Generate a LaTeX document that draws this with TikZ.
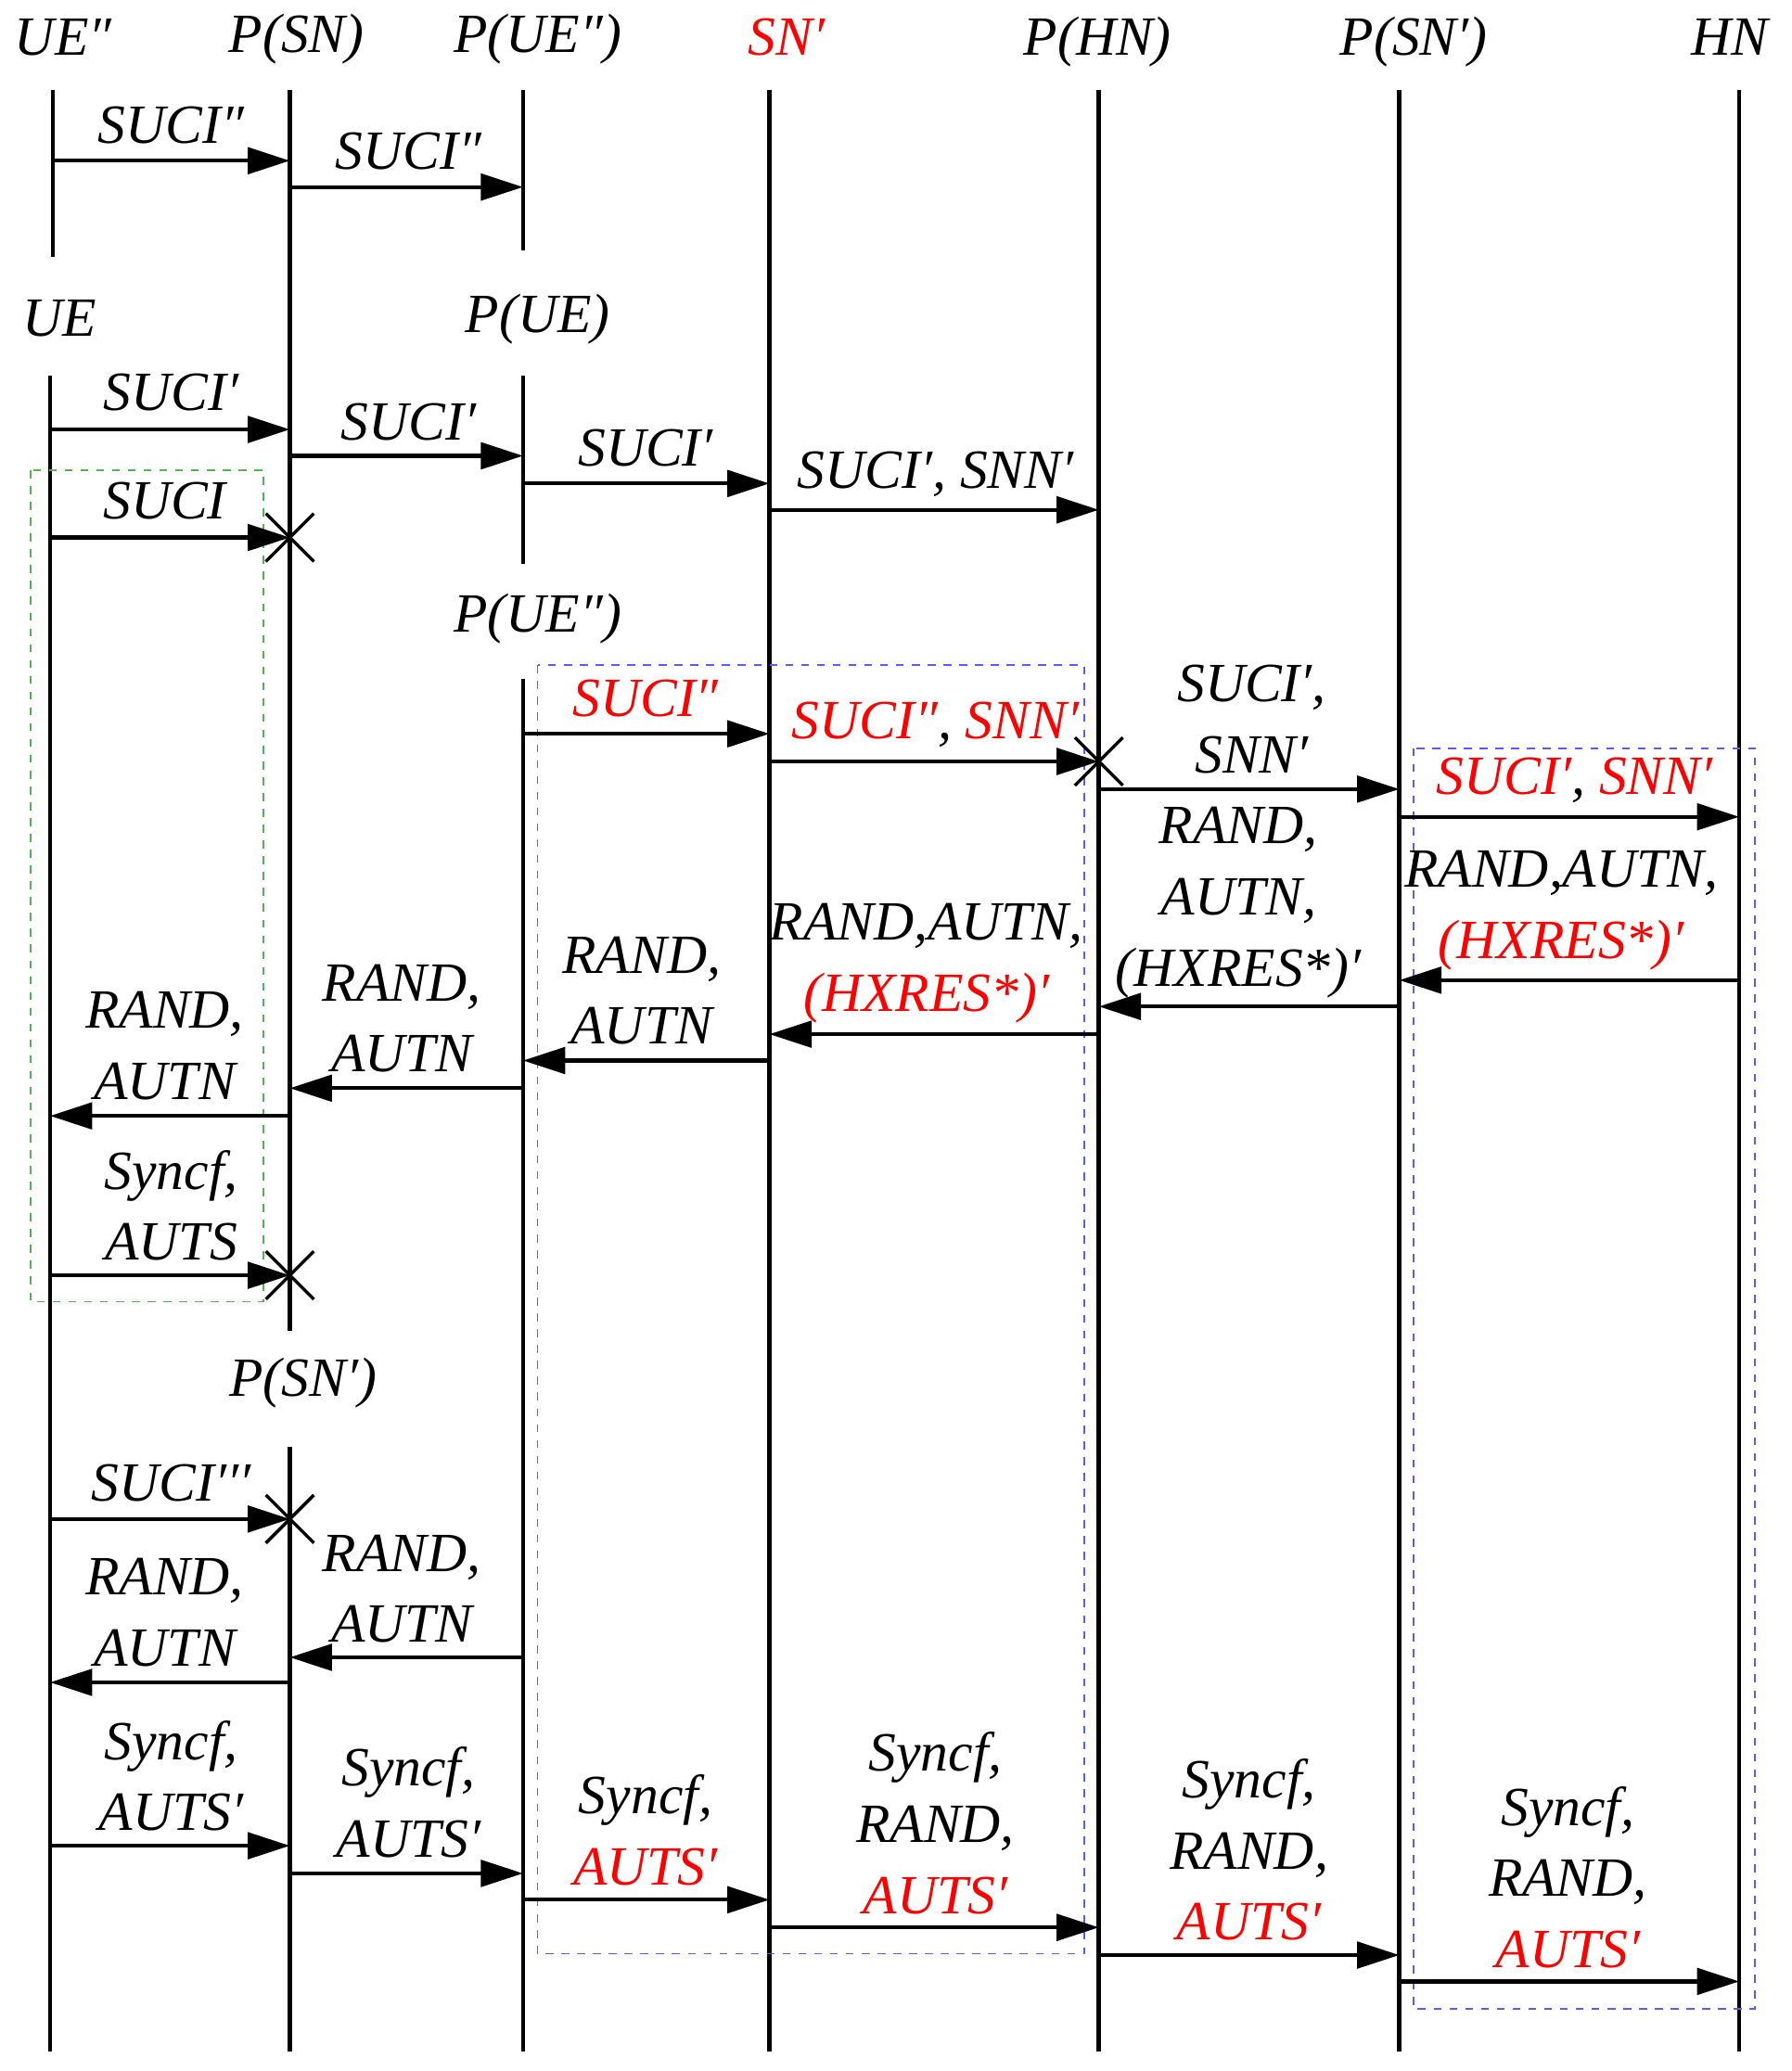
\documentclass[tikz,border=0pt]{standalone}
\usepackage{fontspec}
\setmainfont{Liberation Serif}
\usetikzlibrary{arrows.meta,shapes.misc}
\newcommand\msgarrow[4]{\coordinate (#4a) at (#2,#1); \coordinate (#4b) at (#3,#1); \draw[msg] (#4a) -- (#4b);}
\begin{document}
\begin{tikzpicture}[x=0.5pt,y=-0.5pt,
  life/.style={line width=1.6pt},
  msg/.style={line width=1.5pt,-{Triangle[length=16pt,width=10pt]}},
  lbl/.style={font=\fontsize{21}{25}\selectfont\itshape,align=center,inner sep=0pt},
  xm/.style={cross out,draw,line width=1.2pt,minimum size=17pt,inner sep=0pt},
  gbox/.style={draw={rgb,255:red,80;green,180;blue,80},dashed,line width=0.6pt},
  bbox/.style={draw={rgb,255:red,90;green,90;blue,255},dashed,line width=0.6pt}]
\useasboundingbox (0,0) rectangle (1360,1572);
\colorlet{rd}{red}
% headers
\node[lbl] (hUEpp) at (48,28) {UE″};
\node[lbl] (hPSN) at (225,30) {P(SN)};
\node[lbl] (hPUEpp) at (408,30) {P(UE″)};
\node[lbl,text=rd] (hSNp) at (597,28) {SN′};
\node[lbl] (hPHN) at (833,32) {P(HN)};
\node[lbl] (hPSNp) at (1073,32) {P(SN′)};
\node[lbl] (hHN) at (1313,28) {HN};
\node[lbl] (hUE) at (45,242) {UE};
\node[lbl] (hPUE) at (408,242) {P(UE)};
\node[lbl] (hPUEpp2) at (408,470) {P(UE″)};
\node[lbl] (hPSNp2) at (230,1050) {P(SN′)};
% lifelines
\draw[life] (40,68) -- (40,195);
\draw[life] (220,68) -- (220,1010);
\draw[life] (397,68) -- (397,190);
\draw[life] (38,285) -- (38,1557);
\draw[life] (397,285) -- (397,428);
\draw[life] (397,515) -- (397,1557);
\draw[life] (584,68) -- (584,1557);
\draw[life] (834,68) -- (834,1557);
\draw[life] (1062,68) -- (1062,1557);
\draw[life] (1320,68) -- (1320,1557);
\draw[life] (220,1098) -- (220,1557);
% boxes
\draw[gbox] (23,357) rectangle (200,988);
\draw[bbox] (408,505) rectangle (823,1483);
\draw[bbox] (1073,568) rectangle (1332,1525);
% messages
\msgarrow{122}{40}{220}{m1} \node[lbl] (l1) at (130,95) {SUCI″};
\msgarrow{142}{220}{397}{m2} \node[lbl] (l2) at (310,115) {SUCI″};
\msgarrow{326}{38}{220}{m3} \node[lbl] (l3) at (130,298) {SUCI′};
\msgarrow{346}{220}{397}{m4} \node[lbl] (l4) at (310,320) {SUCI′};
\msgarrow{367}{397}{584}{m5} \node[lbl] (l5) at (490,340) {SUCI′};
\msgarrow{387}{584}{834}{m6} \node[lbl] (l6) at (710,360) {SUCI′, SNN′};
\msgarrow{408}{38}{220}{m7} \node[lbl] (l7) at (125,380) {SUCI}; \node[xm] (x7) at (m7b) {};
\msgarrow{557}{397}{584}{m8} \node[lbl,text=rd] (l8) at (490,530) {SUCI″};
\msgarrow{578}{584}{834}{m9} \node[lbl] (l9) at (710,550) {\textcolor{rd}{SUCI″}, \textcolor{rd}{SNN′}}; \node[xm] (x9) at (m9b) {};
\msgarrow{599}{834}{1062}{m10} \node[lbl] (l10) at (950,546) {SUCI′,\\[2pt] SNN′};
\msgarrow{620}{1062}{1320}{m11} \node[lbl] (l11) at (1195,592) {\textcolor{rd}{SUCI′}, \textcolor{rd}{SNN′}};
\msgarrow{744}{1320}{1062}{m12} \node[lbl] (l12) at (1185,691) {RAND,AUTN,\\[2pt] \textcolor{rd}{(HXRES*)′}};
\msgarrow{764}{1062}{834}{m13} \node[lbl] (l13) at (940,685) {RAND,\\[2pt] AUTN,\\[2pt] (HXRES*)′};
\msgarrow{785}{834}{584}{m14} \node[lbl] (l14) at (703,731) {RAND,AUTN,\\[2pt] \textcolor{rd}{(HXRES*)′}};
\msgarrow{805}{584}{397}{m15} \node[lbl] (l15) at (487,752) {RAND,\\[2pt] AUTN};
\msgarrow{826}{397}{220}{m16} \node[lbl] (l16) at (305,773) {RAND,\\[2pt] AUTN};
\msgarrow{847}{220}{38}{m17} \node[lbl] (l17) at (125,794) {RAND,\\[2pt] AUTN};
\msgarrow{968}{38}{220}{m18} \node[lbl] (l18) at (130,915) {Syncf,\\[2pt] AUTS}; \node[xm] (x18) at (m18b) {};
\msgarrow{1153}{38}{220}{m19} \node[lbl] (l19) at (130,1126) {SUCI′′′}; \node[xm] (x19) at (m19b) {};
\msgarrow{1258}{397}{220}{m20} \node[lbl] (l20) at (305,1206) {RAND,\\[2pt] AUTN};
\msgarrow{1277}{220}{38}{m21} \node[lbl] (l21) at (125,1224) {RAND,\\[2pt] AUTN};
\msgarrow{1401}{38}{220}{m22} \node[lbl] (l22) at (130,1348) {Syncf,\\[2pt] AUTS′};
\msgarrow{1422}{220}{397}{m23} \node[lbl] (l23) at (310,1368) {Syncf,\\[2pt] AUTS′};
\msgarrow{1442}{397}{584}{m24} \node[lbl] (l24) at (490,1389) {Syncf,\\[2pt] \textcolor{rd}{AUTS′}};
\msgarrow{1463}{584}{834}{m25} \node[lbl] (l25) at (710,1384) {Syncf,\\[2pt] RAND,\\[2pt] \textcolor{rd}{AUTS′}};
\msgarrow{1484}{834}{1062}{m26} \node[lbl] (l26) at (948,1404) {Syncf,\\[2pt] RAND,\\[2pt] \textcolor{rd}{AUTS′}};
\msgarrow{1504}{1062}{1320}{m27} \node[lbl] (l27) at (1190,1425) {Syncf,\\[2pt] RAND,\\[2pt] \textcolor{rd}{AUTS′}};
\end{tikzpicture}
\end{document}
